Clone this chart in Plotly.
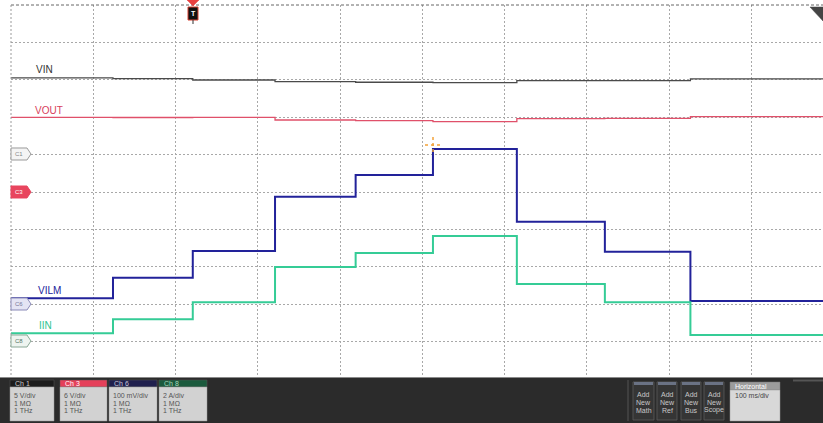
import plotly.graph_objects as go

step_times_ms = [0, 124, 221, 321, 419, 513, 615, 722, 826]
end_time_ms = 987.2
vin_v = [10.27, 10.17, 9.97, 9.75, 9.67, 9.61, 9.88, 9.88, 10.13]
vout_v = [11.98, 11.95, 11.98, 11.55, 11.44, 11.28, 11.76, 11.82, 12.08]
vilm_mv = [15.8, 70.9, 142.2, 287.4, 345.5, 415.0, 220.6, 140.4, 8.6]
iin_a = [0.44, 1.19, 2.10, 3.99, 4.74, 5.65, 3.08, 2.10, 0.35]

channel_names = ["VIN", "VOUT", "VILM", "IIN"]
channel_scale = [5, 6, 100, 2]          # units per division
channel_offset_div = [6, 5, 2, 1]       # ground marker position (divisions)
channel_colors = ["#4a4a4a", "#e0506a", "#22229a", "#35cc96"]
channel_widths = [1.3, 1.3, 2.0, 2.0]

box_titles = ["Ch 1", "Ch 3", "Ch 6", "Ch 8"]
box_scales = ["5 V/div", "6 V/div", "100 mV/div", "2 A/div"]
box_imp = ["1 MΩ", "1 MΩ", "1 MΩ", "1 MΩ"]
box_bw = ["1 THz", "1 THz", "1 THz", "1 THz"]
button_labels = ["Math", "Ref", "Bus", "Scope"]
horiz_scale = "100 ms/div"

# ---------------- geometry helpers ----------------
W, H = 823, 423
PL, PT, PB = 11, 5, 44
PW, PH = W - PL, H - PT - PB
FONT = "Liberation Sans, Arial, sans-serif"


def xp(px):
    return (px - PL) / PW


def yp(py):
    return (PT + PH - py) / PH


fig = go.Figure()

series = [vin_v, vout_v, vilm_mv, iin_a]
for name, vals, sc, off, col, lw in zip(channel_names, series, channel_scale,
                                         channel_offset_div, channel_colors, channel_widths):
    xs = step_times_ms + [end_time_ms]
    ys = [v / sc + off for v in vals] + [vals[-1] / sc + off]
    fig.add_trace(go.Scatter(x=xs, y=ys, mode="lines", line=dict(color=col, width=lw, shape="hv"),
                             name=name, hoverinfo="skip"))

shapes = []
annotations = []


def rect(x0, y0, x1, y1, fill, line=None, lw=0):
    shapes.append(dict(type="rect", xref="paper", yref="paper", x0=xp(x0), x1=xp(x1),
                       y0=yp(y1), y1=yp(y0), fillcolor=fill,
                       line=dict(color=line or fill, width=lw), layer="above"))


def line(x0, y0, x1, y1, color, width=1, dash="solid"):
    shapes.append(dict(type="line", xref="paper", yref="paper", x0=xp(x0), x1=xp(x1),
                       y0=yp(y0), y1=yp(y1), line=dict(color=color, width=width, dash=dash),
                       layer="above"))


def poly(pts, fill, color, width=1):
    d = "M " + " L ".join(f"{xp(a):.5f},{yp(b):.5f}" for a, b in pts) + " Z"
    shapes.append(dict(type="path", xref="paper", yref="paper", path=d, fillcolor=fill,
                       line=dict(color=color, width=width), layer="above"))


def text(px, py, s, color, size, anchor="left", bold=False):
    annotations.append(dict(xref="paper", yref="paper", x=xp(px), y=yp(py), text=f"<b>{s}</b>" if bold else s,
                            showarrow=False, xanchor=anchor, yanchor="middle",
                            font=dict(color=color, size=size, family=FONT)))


# borders of the graticule
line(11, 5, 823, 5, "#666666", 1, "3px,2px")
line(11, 5, 11, 377, "#9a9a9a", 1, "2px,2px")

# channel labels
text(34, 69, "VIN", "#333333", 10)
text(33, 110, "VOUT", "#d8405c", 10)
text(36, 290, "VILM", "#22229a", 10)
text(37, 325, "IIN", "#2fc48e", 10)

# ground markers
marker_specs = [(154, "C1", "#f4f4f4", "#9a9a9a", "#888888"),
                (192, "C3", "#e8455e", "#e8455e", "#ffffff"),
                (304, "C6", "#e4e4f4", "#8a8ab8", "#777799"),
                (341, "C8", "#eef4f0", "#8aa896", "#557766")]
for py, lab, fill, edge, tc in marker_specs:
    poly([(11, py - 6), (27, py - 6), (31, py), (27, py + 6), (11, py + 6)], fill, edge, 1)
    text(19, py, lab, tc, 6, "center")

# trigger marker
poly([(187, 0), (199, 0), (193, 6)], "#e84040", "#e84040", 0.5)
rect(188, 7, 198, 20, "#111111", "#d84030", 1)
text(193, 13.5, "T", "#ffffff", 7, "center", bold=True)
line(193, 20, 193, 24, "#333333", 1)

# top-right corner tab
poly([(810, 7), (823, 7), (823, 21)], "#444444", "#444444", 0.5)

# cursor cross
line(425, 145, 441, 145, "#f3a33a", 1.5, "dot")
line(433, 137, 433, 153, "#f3a33a", 1.5, "dot")

# bottom bar
rect(0, 377, 823, 423, "#2b2b2b")
line(0, 377.5, 823, 377.5, "#8a8a8a", 1)
box_x = [(10, 54), (60, 107), (109, 157), (159, 207)]
head_cols = ["#1c1c1c", "#e5405a", "#20204e", "#1b5a3d"]
head_txt = ["#cccccc", "#ffffff", "#c8c8d8", "#a8d8b8"]
for (x0, x1), t, sc, imp, bw, hc, ht in zip(box_x, box_titles, box_scales, box_imp, box_bw, head_cols, head_txt):
    rect(x0, 380, x1, 387, hc, "#555555", 0.5)
    rect(x0, 387, x1, 421, "#d2d2d2", "#9a9a9a", 0.5)
    text(x0 + 3, 383.5, t, ht, 7)
    text(x0 + 2, 395, sc, "#555555", 7)
    text(x0 + 2, 403, imp, "#555555", 7)
    text(x0 + 2, 411, bw, "#555555", 7)

line(628, 380, 628, 421, "#555555", 1)
btn_x = [(633, 654), (657, 677), (681, 701), (704, 724)]
for (x0, x1), lab in zip(btn_x, button_labels):
    rect(x0, 382, x1, 420, "#353535", "#5a5a5a", 0.8)
    rect(x0 + 1, 382, x1 - 1, 385, "#6a7284")
    cx = (x0 + x1) / 2
    text(cx, 394, "Add", "#c8c8c8", 7, "center")
    text(cx, 402, "New", "#c8c8c8", 7, "center")
    text(cx, 410, lab, "#c8c8c8", 7, "center")

rect(730, 382, 780, 390, "#9c9c9c", "#777777", 0.5)
rect(730, 390, 780, 421, "#d8d8d8", "#999999", 0.5)
text(733, 386, "Horizontal", "#ffffff", 7)
text(733, 395, horiz_scale, "#444444", 7)
line(793, 380.5, 823, 380.5, "#555555", 2)

fig.update_layout(
    width=W, height=H,
    margin=dict(l=PL, r=0, t=PT, b=PB),
    paper_bgcolor="#ffffff", plot_bgcolor="#ffffff",
    showlegend=False, hovermode=False,
    shapes=shapes, annotations=annotations,
    xaxis=dict(range=[0, end_time_ms], tick0=0, dtick=100, showgrid=True, griddash="2px,2px",
               gridcolor="#a8a8a8", gridwidth=1, zeroline=False, showticklabels=False,
               ticks="", showline=False, fixedrange=True),
    yaxis=dict(range=[0, 10], tick0=0, dtick=1, showgrid=True, griddash="2px,2px",
               gridcolor="#a8a8a8", gridwidth=1, zeroline=False, showticklabels=False,
               ticks="", showline=False, fixedrange=True),
)

fig.write_html("out.html", config=dict(displayModeBar=False),
               post_script="document.body.style.margin='0';document.body.style.overflow='hidden';")
